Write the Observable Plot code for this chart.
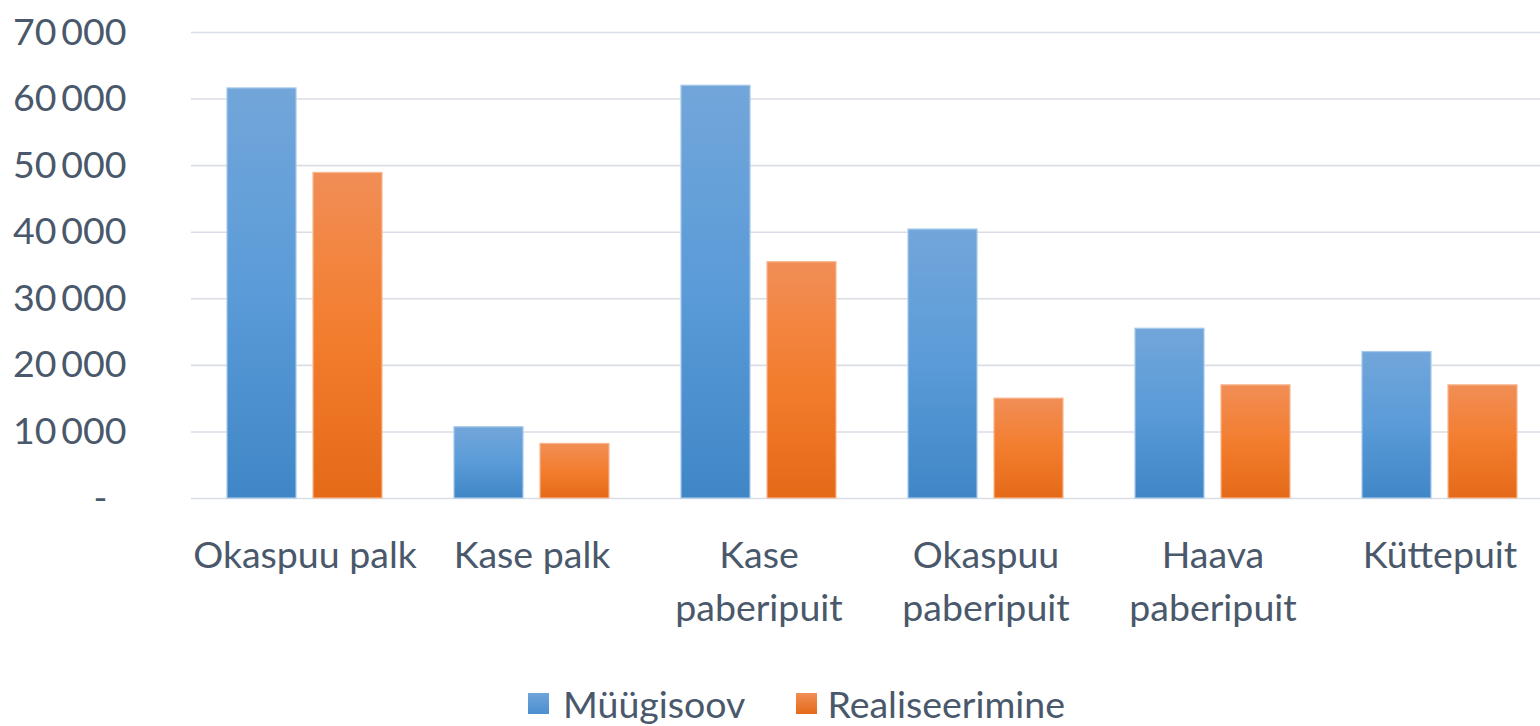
<!DOCTYPE html>
<html>
<head>
<meta charset="utf-8">
<script src="https://cdn.jsdelivr.net/npm/d3@7"></script>
<script src="https://cdn.jsdelivr.net/npm/@observablehq/plot@0.6"></script>
<style>
  html, body { margin: 0; padding: 0; background: #fff; overflow: hidden; width: 1540px; height: 726px; }
  #chart { position: absolute; left: 0; top: 0; }
  #chart svg { max-width: none; }
  #legend { position: absolute; left: 528px; top: 681px; height: 45px; line-height: 45px; display: flex; align-items: center;
            font-family: Lato, sans-serif; font-size: 37.5px; color: #4a586b; white-space: nowrap; }
  .sw { display: inline-block; width: 21px; height: 21px; margin-right: 14px; }
</style>
</head>
<body>
<div id="chart"></div>
<div id="legend">
  <span class="sw" style="background: linear-gradient(#6fa4da, #4a8fd0);"></span><span>Müügisoov</span>
  <span class="sw" style="background: linear-gradient(#f18e56, #e46a18); margin-left: 51px; margin-right: 10px;"></span><span>Realiseerimine</span>
</div>
<script>
const categories = ["Okaspuu palk", "Kase palk", "Kase paberipuit", "Okaspuu paberipuit", "Haava paberipuit", "Küttepuit"];
const categoryLabels = ["Okaspuu palk", "Kase palk", "Kase\npaberipuit", "Okaspuu\npaberipuit", "Haava\npaberipuit", "Küttepuit"];
const series = ["Müügisoov", "Realiseerimine"];
const myygisoov = [61600, 10700, 62000, 40400, 25500, 22000];
const realiseerimine = [48900, 8200, 35500, 15000, 17000, 17000];
const yTicks = [10000, 20000, 30000, 40000, 50000, 60000, 70000];
const yTickLabels = ["10\u2009000", "20\u2009000", "30\u2009000", "40\u2009000", "50\u2009000", "60\u2009000", "70\u2009000"];

const rowsA = categories.map((c, i) => ({cat: c, series: series[0], value: myygisoov[i]}));
const rowsB = categories.map((c, i) => ({cat: c, series: series[1], value: realiseerimine[i]}));

const textColor = "#4a586b";
const font = "Lato, sans-serif";

const chart = Plot.plot({
  width: 1554,
  height: 672,
  marginLeft: 190,
  marginRight: 0,
  marginTop: 32,
  marginBottom: 174,
  style: {fontFamily: font, color: textColor, background: "transparent"},
  fx: {domain: categories, padding: 0},
  x: {domain: series, paddingInner: 0.2, paddingOuter: 0.413, axis: null},
  y: {domain: [0, 70000], axis: null},
  marks: [
    Plot.gridY([0, ...yTicks], {stroke: "#d9dee6", strokeOpacity: 1, strokeWidth: 1.6}),
    Plot.barY(rowsA, {fx: "cat", x: "series", y: "value", fill: "url(#gradBlue)", stroke: "#a6c8ec", strokeWidth: 1.2}),
    Plot.barY(rowsB, {fx: "cat", x: "series", y: "value", fill: "url(#gradOrange)", stroke: "#f7b690", strokeWidth: 1.2}),
    Plot.axisY(yTicks, {tickSize: 0, tickPadding: 65, fontSize: 37.5, fill: textColor,
      tickFormat: (d) => yTickLabels[yTicks.indexOf(d)], label: null}),
    Plot.axisY([0], {tickSize: 0, tickPadding: 84, fontSize: 37.5, fill: textColor, tickFormat: () => "-", label: null}),
    Plot.axisFx({anchor: "bottom", tickSize: 0, tickPadding: 32, fontSize: 37.5, lineHeight: 1.41, fill: textColor, label: null,
      tickFormat: (d) => categoryLabels[categories.indexOf(d)]})
  ]
});

const svg = d3.select(chart);
const defs = svg.insert("defs", ":first-child");
const gb = defs.append("linearGradient").attr("id", "gradBlue").attr("x1", 0).attr("y1", 0).attr("x2", 0).attr("y2", 1);
gb.append("stop").attr("offset", "0%").attr("stop-color", "#72a6da");
gb.append("stop").attr("offset", "50%").attr("stop-color", "#5a9bd8");
gb.append("stop").attr("offset", "100%").attr("stop-color", "#4086c6");
const go = defs.append("linearGradient").attr("id", "gradOrange").attr("x1", 0).attr("y1", 0).attr("x2", 0).attr("y2", 1);
go.append("stop").attr("offset", "0%").attr("stop-color", "#f18e56");
go.append("stop").attr("offset", "50%").attr("stop-color", "#f37d2e");
go.append("stop").attr("offset", "100%").attr("stop-color", "#e46a18");

document.getElementById("chart").appendChild(chart);
</script>
</body>
</html>
